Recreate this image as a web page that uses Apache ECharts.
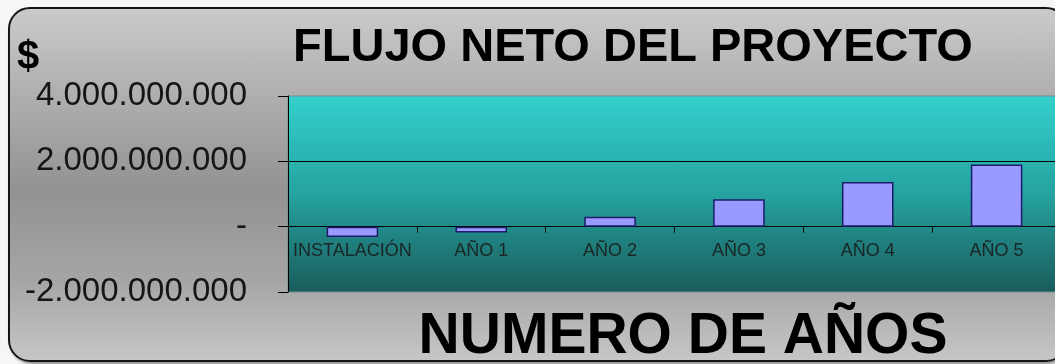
<!DOCTYPE html>
<html>
<head>
<meta charset="utf-8">
<title>Flujo neto del proyecto</title>
<script src="https://cdn.jsdelivr.net/npm/echarts@6/dist/echarts.min.js"></script>
<style>
  html, body { margin: 0; padding: 0; background: #f6f6f6; overflow: hidden; width: 1055px; height: 364px; }
  #frame {
    position: absolute; left: 8px; top: 7px; width: 1056px; height: 351px;
    border: 2px solid #151515; border-radius: 22px;
    background: linear-gradient(to bottom, #cacaca 0%, #ababab 28%, #929292 52%, #a6a6a6 78%, #c6c6c6 100%);
    box-shadow: 2px 2px 3px rgba(0,0,0,0.45);
  }
  #chart { position: absolute; left: 0; top: 0; width: 1070px; height: 364px; }
</style>
</head>
<body>
<div id="frame"></div>
<div id="chart"></div>
<script>
// Flujo neto anual del proyecto, en pesos
const categories = ['INSTALACIÓN', 'AÑO 1', 'AÑO 2', 'AÑO 3', 'AÑO 4', 'AÑO 5'];
const netFlow = [-315000000, -175000000, 300000000, 840000000, 1370000000, 1900000000];
const yTicks = [-2000000000, 0, 2000000000, 4000000000];
const gridLineValues = [2000000000];

const titleText = 'FLUJO NETO DEL PROYECTO';
const xTitleText = 'NUMERO DE AÑOS';
const unitText = '$';

function fmtPesos(v) {
  if (v === 0) return '-';
  const s = String(Math.abs(v)).replace(/\B(?=(\d{3})+(?!\d))/g, '.');
  return (v < 0 ? '-' : '') + s;
}

// plot box
const gridTop = 96, gridBottom = 72, chartHeight = 364;
const gridHeight = chartHeight - gridTop - gridBottom;
const yMin = yTicks[0], yMax = yTicks[yTicks.length - 1];
// lift the category axis (line, ticks and labels) from the bottom edge up to the zero value
const zeroLift = -gridHeight * (0 - yMin) / (yMax - yMin);

const chart = echarts.init(document.getElementById('chart'), null, { renderer: 'canvas' });

chart.setOption({
  animation: false,
  backgroundColor: 'transparent',
  textStyle: { fontFamily: '"Liberation Sans", Arial, sans-serif' },
  grid: {
    left: 288, top: gridTop, right: 9, bottom: gridBottom,
    show: true,
    borderColor: '#6c8c96',
    borderWidth: 1,
    backgroundColor: new echarts.graphic.LinearGradient(0, 0, 0, 1, [
      { offset: 0, color: '#34d0cd' },
      { offset: 0.5, color: '#25a3a0' },
      { offset: 1, color: '#1a5b5b' }
    ])
  },
  xAxis: {
    type: 'category',
    data: categories,
    offset: zeroLift,
    axisLine: { onZero: false, lineStyle: { color: '#000', width: 1 } },
    axisTick: { show: true, length: 6, lineStyle: { color: '#000' } },
    axisLabel: {
      margin: 15,
      fontSize: 18,
      color: '#1a2626',
      interval: 0
    }
  },
  yAxis: {
    type: 'value',
    min: yMin,
    max: yMax,
    interval: yTicks[1] - yTicks[0],
    axisLine: { show: true, lineStyle: { color: '#000', width: 1 } },
    axisTick: { show: true, length: 10, lineStyle: { color: '#000' } },
    splitLine: { show: false },
    axisLabel: {
      margin: 41,
      fontSize: 33,
      color: '#151515',
      formatter: fmtPesos
    }
  },
  series: [{
    type: 'bar',
    data: netFlow,
    barWidth: '40%',
    itemStyle: { color: '#9999ff', borderColor: '#1c1c6a', borderWidth: 1.5 },
    markLine: {
      silent: true,
      symbol: 'none',
      label: { show: false },
      lineStyle: { color: '#000', width: 1, type: 'solid' },
      data: gridLineValues.map(v => ({ yAxis: v }))
    }
  }],
  graphic: [
    {
      type: 'text', silent: true,
      style: {
        text: titleText, x: 633, y: 48,
        font: 'bold 47px "Liberation Sans", Arial, sans-serif',
        textAlign: 'center', textVerticalAlign: 'middle', fill: '#000'
      }
    },
    {
      type: 'text', silent: true,
      style: {
        text: xTitleText, x: 683, y: 337,
        font: 'bold 57px "Liberation Sans", Arial, sans-serif',
        textAlign: 'center', textVerticalAlign: 'middle', fill: '#000'
      }
    },
    {
      type: 'text', silent: true,
      style: {
        text: unitText, x: 28, y: 58,
        font: 'bold 40px "Liberation Sans", Arial, sans-serif',
        textAlign: 'center', textVerticalAlign: 'middle', fill: '#000'
      }
    }
  ]
});
</script>
</body>
</html>
